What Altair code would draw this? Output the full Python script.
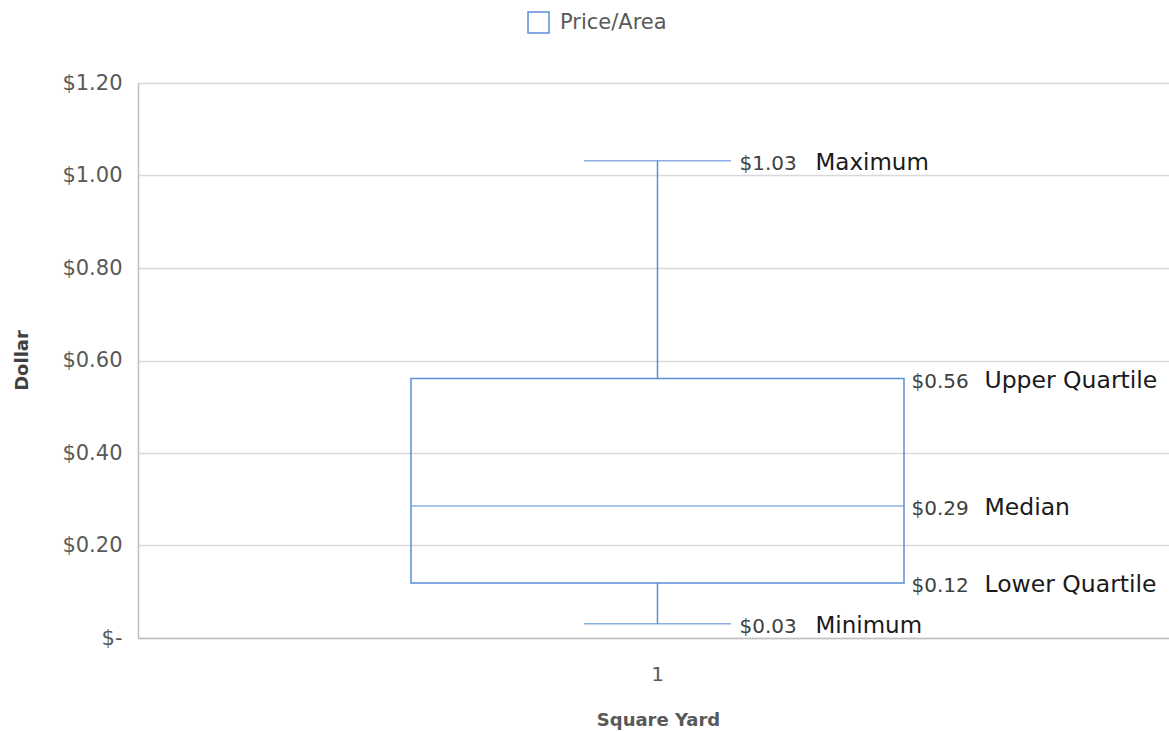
import altair as alt
import pandas as pd

# ---- data ----
category = ["1"]
series = ["Price/Area"]
stat_names = ["Minimum", "Lower Quartile", "Median", "Upper Quartile", "Maximum"]
stat_values = [0.031, 0.119, 0.2853, 0.561, 1.032]
whisker_stats = ["Minimum", "Maximum"]
box_stats = ["Lower Quartile", "Median", "Upper Quartile"]
y_ticks = [0, 0.2, 0.4, 0.6, 0.8, 1.0, 1.2]

s = dict(zip(stat_names, stat_values))
box_df = pd.DataFrame({
    "cat": category,
    "series": series,
    "min": [s["Minimum"]],
    "q1": [s["Lower Quartile"]],
    "median": [s["Median"]],
    "q3": [s["Upper Quartile"]],
    "max": [s["Maximum"]],
})
lab_df = pd.DataFrame({
    "cat": category * len(stat_names),
    "stat": stat_names,
    "value": stat_values,
})

BLUE = "#5b8fd6"
FONT = "DejaVu Sans"
GRAY = "#595959"

x = alt.X(
    "cat:N",
    scale=alt.Scale(paddingInner=0, paddingOuter=0, range=[0, 1039]),
    axis=alt.Axis(
        title="Square Yard", labelAngle=0, ticks=False, grid=False,
        domainColor="#bfbfbf", domainWidth=1.5,
        labelFont=FONT, labelFontSize=20, labelColor=GRAY, labelPadding=26,
        titleFont=FONT, titleFontSize=18, titleFontWeight="bold", titleColor=GRAY,
        titleX=520, titleY=82, titleBaseline="middle",
    ),
)
yscale = alt.Scale(domain=[0, 1.2], nice=False, zero=True)
yaxis = alt.Axis(
    title="Dollar", values=y_ticks, ticks=False,
    labelExpr="datum.value == 0 ? '$-' : '$' + format(datum.value, '.2f')",
    gridColor="#d9d9d9", gridWidth=1.5, domainColor="#bfbfbf", domainWidth=1.5,
    labelFont=FONT, labelFontSize=21, labelColor=GRAY, labelPadding=16,
    titleFont=FONT, titleFontSize=18, titleFontWeight="bold", titleColor="#404040",
    titleX=-116, titleY=277, titleAngle=-90, titleAlign="center", titleBaseline="middle",
)

base = alt.Chart(box_df)

box = base.mark_bar(width=493, fill="transparent", strokeWidth=1.5).encode(
    x=x,
    y=alt.Y("q1:Q", scale=yscale, axis=yaxis),
    y2="q3:Q",
    stroke=alt.Stroke(
        "series:N",
        scale=alt.Scale(range=[BLUE]),
        legend=alt.Legend(
            title=None, orient="none", legendX=389, legendY=-72, padding=0,
            symbolType="square", symbolSize=440, symbolStrokeWidth=1.5,
            symbolFillColor="white", symbolStrokeColor=BLUE,
            labelFont=FONT, labelFontSize=21, labelColor=GRAY, labelOffset=10,
        ),
    ),
)
whisk_up = base.mark_rule(color=BLUE, strokeWidth=1.5).encode(x=x, y="q3:Q", y2="max:Q")
whisk_dn = base.mark_rule(color=BLUE, strokeWidth=1.5).encode(x=x, y="min:Q", y2="q1:Q")
cap_max = base.mark_tick(color=BLUE, size=147, thickness=1.5).encode(x=x, y="max:Q")
cap_min = base.mark_tick(color=BLUE, size=147, thickness=1.5).encode(x=x, y="min:Q")
median = base.mark_tick(color=BLUE, size=493, thickness=1.5).encode(x=x, y="median:Q")

lab = alt.Chart(lab_df).transform_calculate(
    txt="'$' + format(datum.value, '.2f')"
)
wl = lab.transform_filter(alt.FieldOneOfPredicate(field="stat", oneOf=whisker_stats))
bl = lab.transform_filter(alt.FieldOneOfPredicate(field="stat", oneOf=box_stats))

val_w = wl.mark_text(align="left", baseline="middle", dx=82, dy=3, font=FONT, fontSize=20, color="#404040").encode(
    x=x, y="value:Q", text="txt:N")
name_w = wl.mark_text(align="left", baseline="middle", dx=158, dy=2, font=FONT, fontSize=23, color="#1a1a1a").encode(
    x=x, y="value:Q", text="stat:N")
val_b = bl.mark_text(align="left", baseline="middle", dx=254, dy=3, font=FONT, fontSize=20, color="#404040").encode(
    x=x, y="value:Q", text="txt:N")
name_b = bl.mark_text(align="left", baseline="middle", dx=327, dy=2, font=FONT, fontSize=23.5, color="#1a1a1a").encode(
    x=x, y="value:Q", text="stat:N")

chart = alt.layer(
    box, whisk_up, whisk_dn, cap_max, cap_min, median, val_w, name_w, val_b, name_b
).properties(
    width=1031, height=555,
    padding={"left": 138, "top": 83, "right": 0, "bottom": 94},
    autosize="none",
).configure_view(stroke=None).configure(background="white")

chart.save("out.html", embed_options={"renderer": "svg", "actions": False})
